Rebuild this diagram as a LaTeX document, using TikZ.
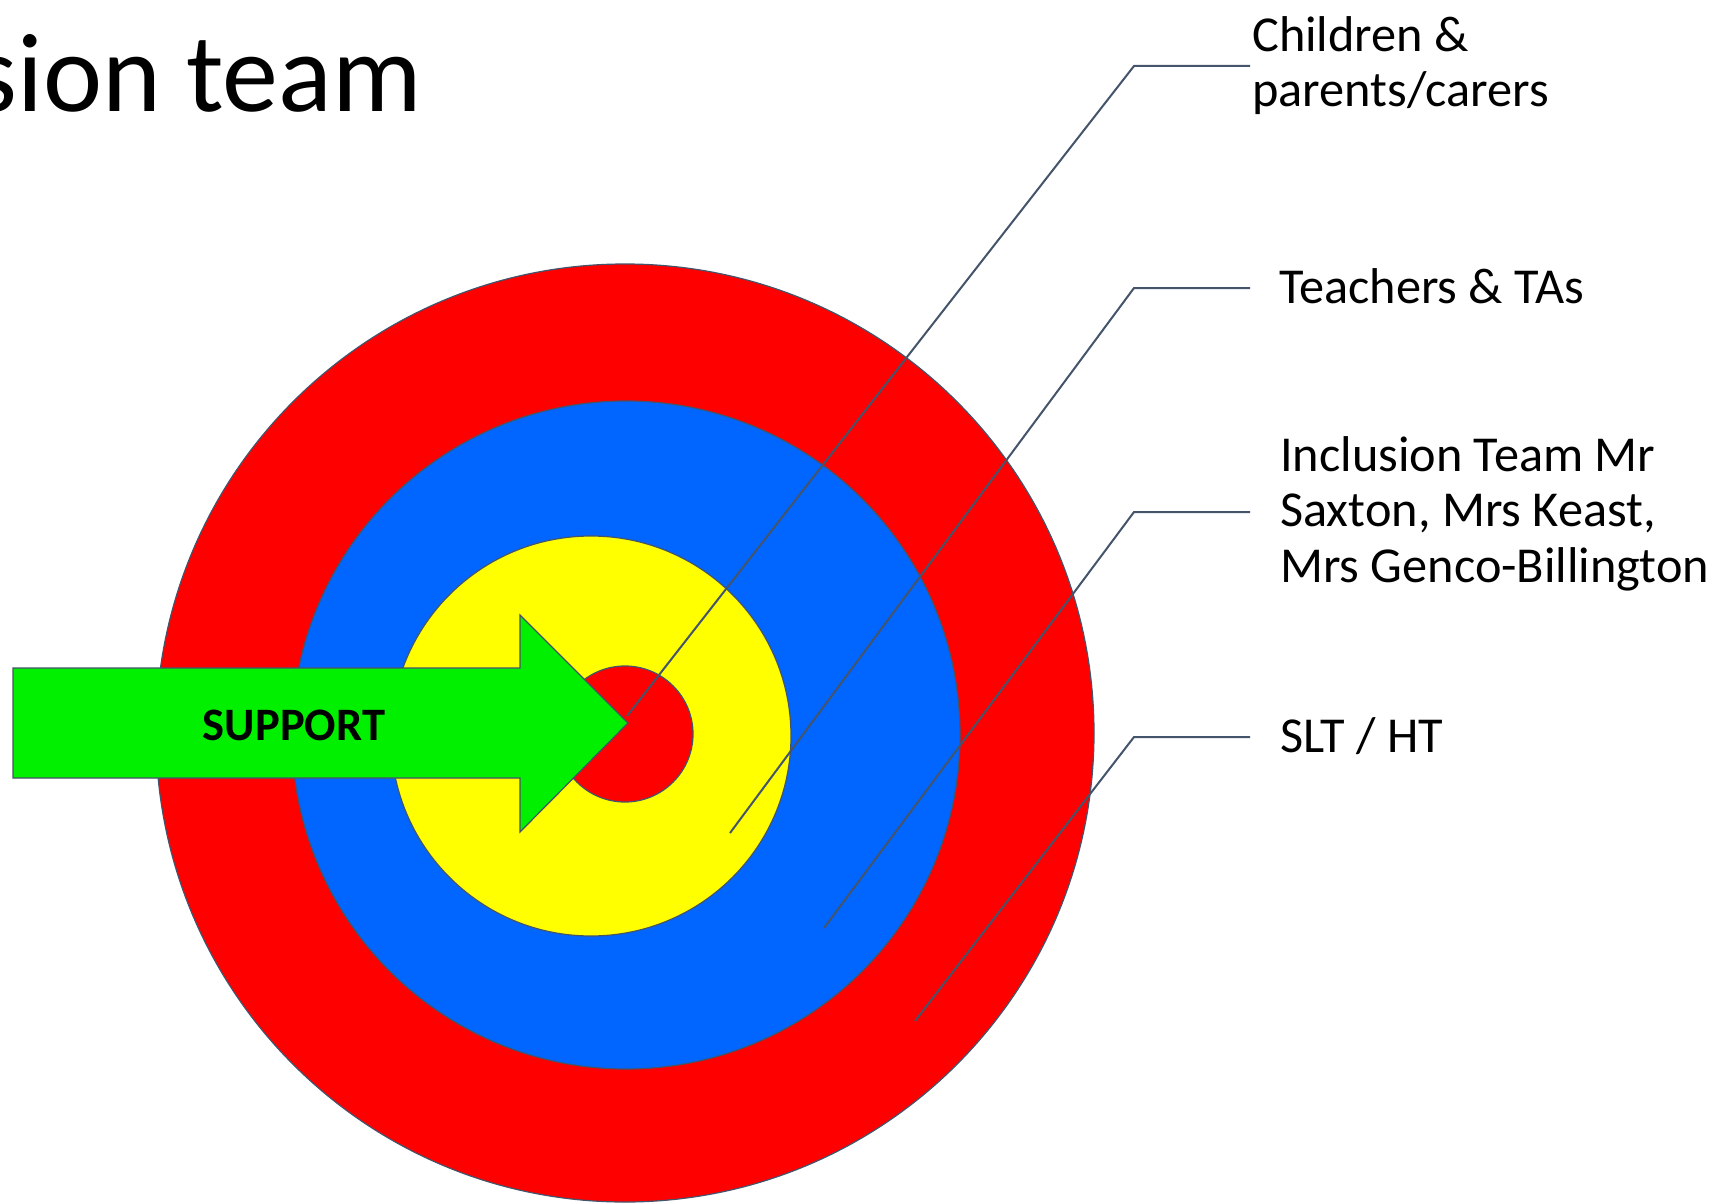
\documentclass[tikz,border=0pt]{standalone}
\usepackage{fontspec}
\setmainfont{Carlito}
\definecolor{ringred}{RGB}{255,0,0}
\definecolor{ringblue}{RGB}{0,102,255}
\definecolor{ringyellow}{RGB}{255,255,0}
\definecolor{arrowgreen}{RGB}{0,240,0}
\definecolor{slate}{RGB}{68,84,106}
\tikzset{
	ring/.style={draw=slate, line width=1.2pt},
	leader/.style={draw=slate, line width=2pt},
	lbl/.style={anchor=base west, align=left, inner sep=0pt, font=\fontsize{50.3}{55.5}\selectfont}
}

\begin{document}
\begin{tikzpicture}[x=1pt, y=-1pt]
			%%%%% START %%%%%
			\useasboundingbox[fill=white] (0, 0) rectangle (1716, 1204);
			
			\node[anchor=base east, inner sep=0pt, font=\fontsize{112}{126}\selectfont] (title) at (422, 112) {sion team};
			
			% target rings
			\draw[ring, fill=ringred] (625, 733) circle (469);
			\draw[ring, fill=ringblue] (626, 735) circle (334);
			\draw[ring, fill=ringyellow] (591, 736) circle (200);
			\draw[ring, fill=ringred] (625, 734) circle (68);
			
			% arrow
			\draw[ring, fill=arrowgreen] (13, 668) -- (520, 668) -- (520, 615) -- (628, 723) -- (520, 832) -- (520, 778) -- (13, 778) -- cycle;
			\node[inner sep=0pt, font=\bfseries\fontsize{46.5}{52}\selectfont] (support) at (294, 725) {SUPPORT};
			
			% labels (base = last line)
			\node[lbl] (kids) at (1252, 107) {Children \&\\parents/carers};
			\node[lbl] (staff) at (1279, 303) {Teachers \& TAs};
			\node[lbl] (incl) at (1280, 582) {Inclusion Team Mr\\Saxton, Mrs Keast,\\Mrs Genco-Billington};
			\node[lbl] (slt) at (1280, 752) {SLT / HT};
			
			% leader lines
			\coordinate (kidsR) at (1250, 66);
			\coordinate (kidsK) at (1134, 66);
			\coordinate (kidsE) at (627, 716);
			\coordinate (staffR) at (1250, 288);
			\coordinate (staffK) at (1134, 288);
			\coordinate (staffE) at (730, 833);
			\coordinate (inclR) at (1250, 512);
			\coordinate (inclK) at (1134, 512);
			\coordinate (inclE) at (824, 928);
			\coordinate (sltR) at (1250, 737);
			\coordinate (sltK) at (1134, 737);
			\coordinate (sltE) at (915, 1021);
			
			\draw[leader] (kidsR) -- (kidsK) -- (kidsE);
			\draw[leader] (staffR) -- (staffK) -- (staffE);
			\draw[leader] (inclR) -- (inclK) -- (inclE);
			\draw[leader] (sltR) -- (sltK) -- (sltE);
			%%%%% END %%%%%
\end{tikzpicture}
\end{document}
